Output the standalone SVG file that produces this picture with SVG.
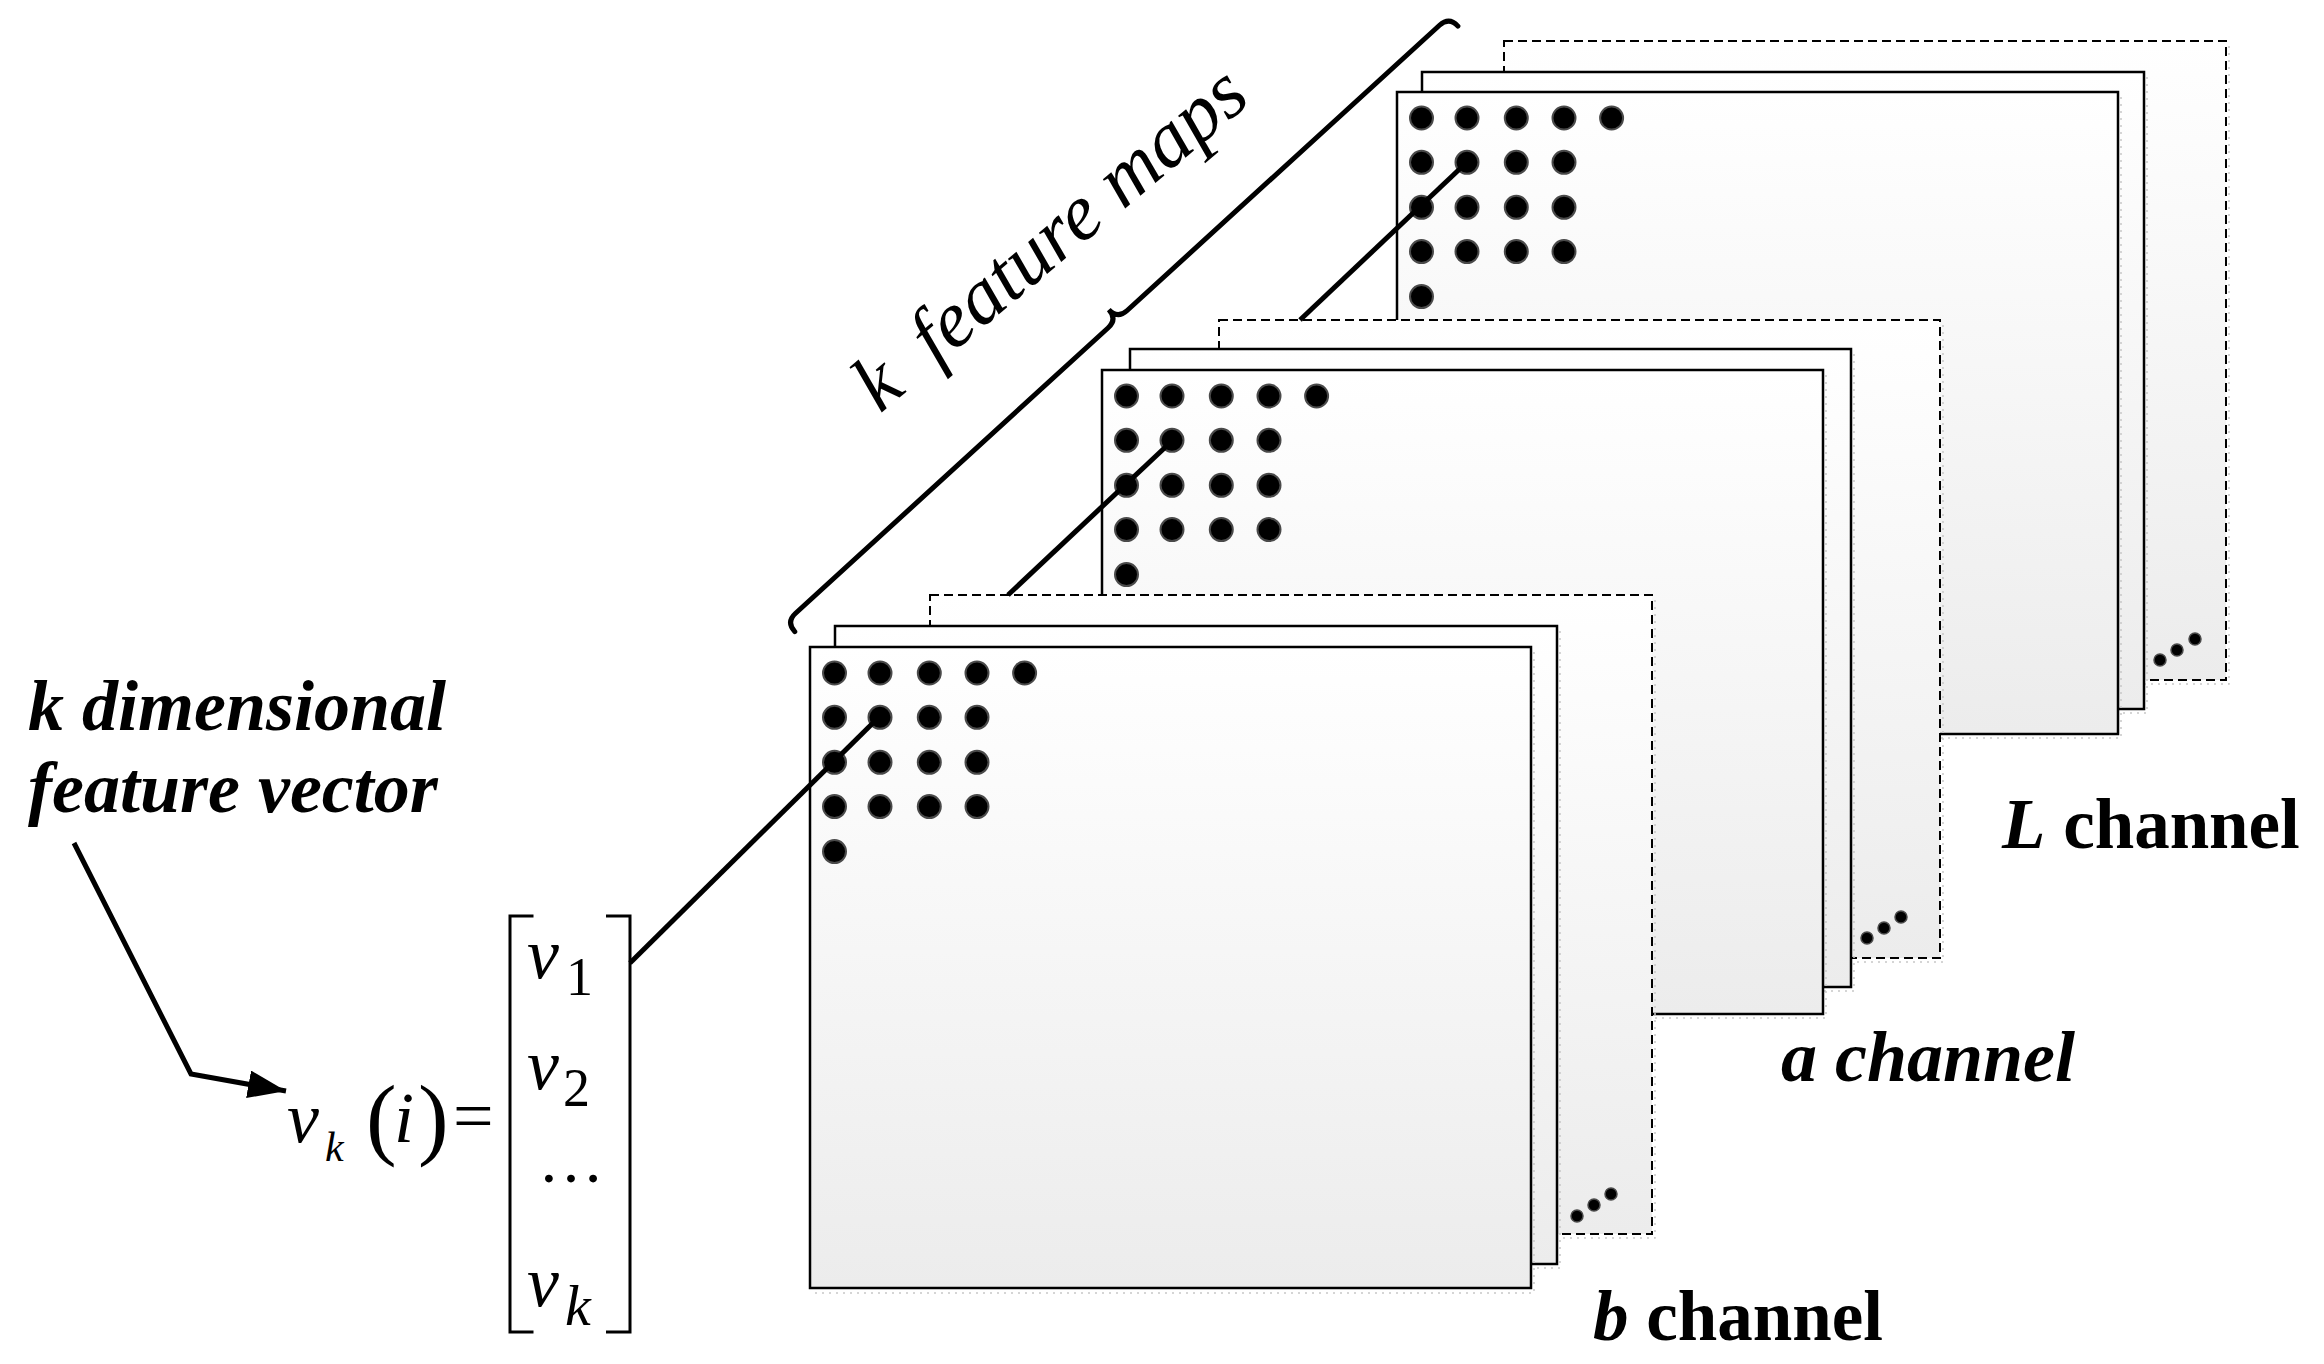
<svg xmlns="http://www.w3.org/2000/svg" width="2324" height="1364" viewBox="0 0 2324 1364">
<defs>
  <linearGradient id="fillG" x1="0" y1="0" x2="0" y2="1">
    <stop offset="0" stop-color="#ffffff"/>
    <stop offset="1" stop-color="#ececec"/>
  </linearGradient>
  <g id="dotgrid">
    <circle class="dot" cx="24.5" cy="26" r="11.5"/>
    <circle class="dot" cx="70" cy="26" r="11.5"/>
    <circle class="dot" cx="119.3" cy="26" r="11.5"/>
    <circle class="dot" cx="167" cy="26" r="11.5"/>
    <circle class="dot" cx="214.6" cy="26" r="11.5"/>
    <circle class="dot" cx="24.5" cy="70.3" r="11.5"/>
    <circle class="dot" cx="70" cy="70.3" r="11.5"/>
    <circle class="dot" cx="119.3" cy="70.3" r="11.5"/>
    <circle class="dot" cx="167" cy="70.3" r="11.5"/>
    <circle class="dot" cx="24.5" cy="115.3" r="11.5"/>
    <circle class="dot" cx="70" cy="115.3" r="11.5"/>
    <circle class="dot" cx="119.3" cy="115.3" r="11.5"/>
    <circle class="dot" cx="167" cy="115.3" r="11.5"/>
    <circle class="dot" cx="24.5" cy="159.6" r="11.5"/>
    <circle class="dot" cx="70" cy="159.6" r="11.5"/>
    <circle class="dot" cx="119.3" cy="159.6" r="11.5"/>
    <circle class="dot" cx="167" cy="159.6" r="11.5"/>
    <circle class="dot" cx="24.5" cy="204.6" r="11.5"/>
  </g>
  <marker id="arrowhead" viewBox="0 0 10 10" refX="10" refY="5" markerUnits="userSpaceOnUse" markerWidth="38" markerHeight="28" orient="auto" preserveAspectRatio="none">
    <path d="M0,0 L10,5 L0,10 z" fill="#000"/>
  </marker>
</defs>
<style>
  .map{fill:url(#fillG);stroke:#000;stroke-width:2.5}
  .dash{fill:url(#fillG);stroke:#000;stroke-width:2;stroke-dasharray:9 5}
  .shadow{fill:none;stroke:#c8c8c8;stroke-width:1.5;stroke-dasharray:2 5}
  .dot{fill:#000;stroke:#4a4a4a;stroke-width:2}
  .sdot{fill:#000;stroke:#4a4a4a;stroke-width:1.5}
  .conn{fill:none;stroke:#000;stroke-width:5}
  .serif{font-family:"Liberation Serif","Times New Roman",serif;fill:#000}
  .lbl{font-family:"Liberation Serif","Times New Roman",serif;font-weight:bold;fill:#000}
  .it{font-style:italic}
</style>
<rect width="2324" height="1364" fill="#fff"/>

<!-- L channel stack -->
<g id="L-channel">
  <g id="L-map-back">
    <rect class="dash" x="1504" y="41" width="722" height="639"/>
    <path class="shadow" d="M2229,46 V684 H1509"/>
    <circle class="sdot" cx="2160" cy="660" r="6"/>
    <circle class="sdot" cx="2177" cy="650" r="6"/>
    <circle class="sdot" cx="2195" cy="639" r="6"/>
  </g>
  <g id="L-map-2">
    <rect class="map" x="1422" y="72" width="722" height="637"/>
    <path class="shadow" d="M2147,77 V713 H1427"/>
  </g>
  <g id="L-map-1">
    <rect class="map" x="1397" y="92" width="721" height="642"/>
    <path class="shadow" d="M2121,97 V738 H1402"/>
    <use href="#dotgrid" x="1397" y="92"/>
  </g>
</g>

<!-- a channel stack -->
<g id="a-channel">
  <g id="a-map-back">
    <rect class="dash" x="1219" y="320" width="721" height="638"/>
    <path class="shadow" d="M1943,325 V962 H1224"/>
    <circle class="sdot" cx="1867" cy="938" r="6"/>
    <circle class="sdot" cx="1884" cy="928" r="6"/>
    <circle class="sdot" cx="1901" cy="917" r="6"/>
  </g>
  <g id="a-map-2">
    <rect class="map" x="1130" y="349" width="721" height="638"/>
    <path class="shadow" d="M1854,354 V991 H1135"/>
  </g>
  <g id="a-map-1">
    <rect class="map" x="1102" y="370" width="721" height="644"/>
    <path class="shadow" d="M1826,375 V1018 H1107"/>
    <use href="#dotgrid" x="1102" y="370"/>
  </g>
</g>

<!-- b channel stack -->
<g id="b-channel">
  <g id="b-map-back">
    <rect class="dash" x="930" y="595" width="722" height="639"/>
    <path class="shadow" d="M1655,600 V1238 H935"/>
    <circle class="sdot" cx="1577" cy="1216" r="6"/>
    <circle class="sdot" cx="1594" cy="1205" r="6"/>
    <circle class="sdot" cx="1611" cy="1194" r="6"/>
  </g>
  <g id="b-map-2">
    <rect class="map" x="835" y="626" width="722" height="638"/>
    <path class="shadow" d="M1560,631 V1268 H840"/>
  </g>
  <g id="b-map-1">
    <rect class="map" x="810" y="647" width="721" height="641"/>
    <path class="shadow" d="M1534,652 V1293 H815"/>
    <use href="#dotgrid" x="810" y="647"/>
  </g>
</g>

<!-- feature vector -->
<g id="vector">
  <path d="M533.5,916 H510 V1332 H533.5" fill="none" stroke="#000" stroke-width="3"/>
  <path d="M606,916 H630 V1332 H606" fill="none" stroke="#000" stroke-width="3"/>
  <text class="serif it" x="527" y="978" font-size="72">v</text>
  <text class="serif" x="566" y="995" font-size="54">1</text>
  <text class="serif it" x="527" y="1089" font-size="72">v</text>
  <text class="serif" x="563" y="1106" font-size="54">2</text>
  <text class="serif" x="538" y="1182" font-size="66">…</text>
  <text class="serif it" x="527" y="1306" font-size="72">v</text>
  <text class="serif it" x="565" y="1325" font-size="58">k</text>
</g>

<g id="equation">
  <text class="serif it" x="287" y="1142" font-size="72">v</text>
  <text class="serif it" x="325" y="1161" font-size="42">k</text>
  <text class="serif" x="366" y="1148" font-size="92">(</text>
  <text class="serif it" x="394" y="1142" font-size="72">i</text>
  <text class="serif" x="418" y="1148" font-size="92">)</text>
  <text class="serif" x="453" y="1140" font-size="72">=</text>
</g>

<g id="label-vector">
  <text class="lbl it" x="28" y="730" font-size="72">k dimensional</text>
  <text class="lbl it" x="28" y="812" font-size="72">feature vector</text>
</g>

<g id="label-maps">
  <text class="serif it" font-size="80" transform="translate(880,414) rotate(-40)">k<tspan dx="18"> feature maps</tspan></text>
</g>

<g id="label-L"><text class="lbl" x="2002" y="848" font-size="71"><tspan class="it">L</tspan> channel</text></g>
<g id="label-a"><text class="lbl it" x="1781" y="1081" font-size="72">a channel</text></g>
<g id="label-b"><text class="lbl" x="1593" y="1340" font-size="71"><tspan class="it">b</tspan> channel</text></g>

<!-- connectors -->
<g id="connectors">
  <line class="conn" x1="1466" y1="163" x2="1300" y2="320"/>
  <line class="conn" x1="1173" y1="440" x2="1008" y2="595"/>
  <line class="conn" x1="880" y1="716" x2="630" y2="963"/>
  <polyline points="74,843 191,1074 286,1091" fill="none" stroke="#000" stroke-width="5" marker-end="url(#arrowhead)"/>
  <path transform="translate(786,622) rotate(-42.4)" d="M0,13 Q0,0 13,0 L436,0 Q449,0 449,-13 Q449,0 462,0 L885,0 Q898,0 898,13" fill="none" stroke="#000" stroke-width="5" stroke-linecap="round"/>
</g>
</svg>
